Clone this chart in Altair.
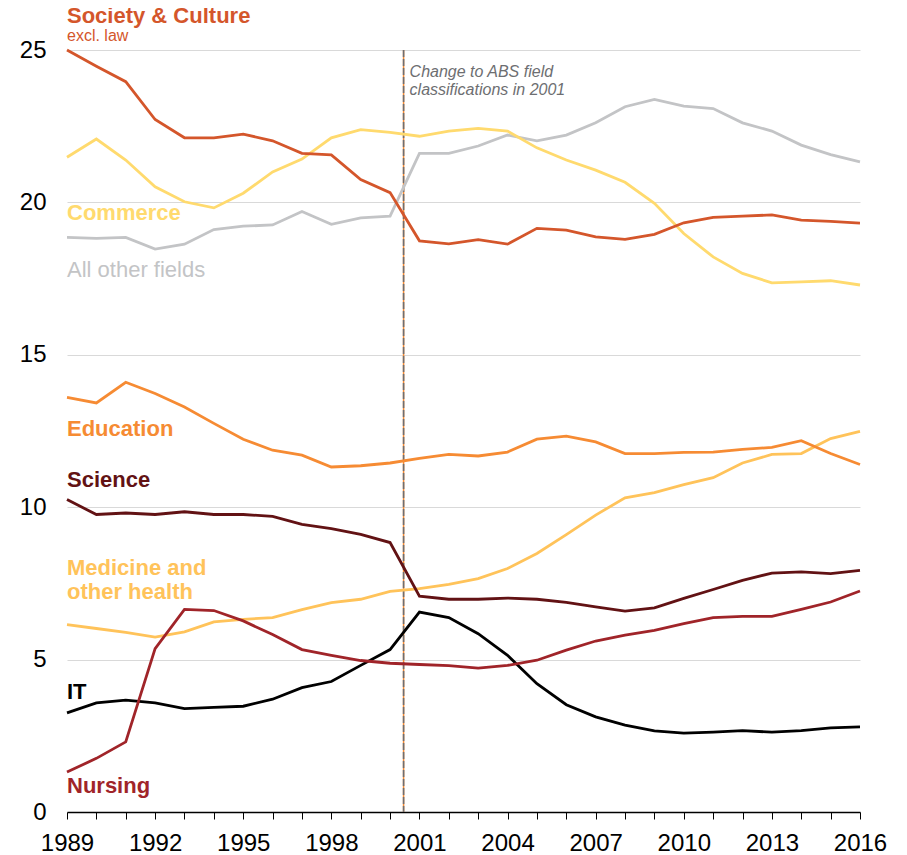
import altair as alt
import pandas as pd

years = list(range(1989, 2017))

society = [25.0, 24.47, 23.96, 22.72, 22.12, 22.12, 22.24, 22.02, 21.61, 21.56, 20.75, 20.32,
           18.74, 18.64, 18.78, 18.63, 19.15, 19.09, 18.87, 18.79, 18.95, 19.33, 19.51, 19.55,
           19.59, 19.42, 19.38, 19.32]
commerce = [21.48, 22.08, 21.39, 20.51, 20.02, 19.82, 20.30, 21.00, 21.42, 22.12, 22.39, 22.30,
            22.17, 22.34, 22.43, 22.34, 21.79, 21.39, 21.06, 20.66, 19.97, 18.98, 18.21, 17.67,
            17.36, 17.39, 17.43, 17.29]
other = [18.85, 18.82, 18.85, 18.47, 18.63, 19.11, 19.22, 19.26, 19.70, 19.28, 19.49, 19.55,
         21.61, 21.61, 21.85, 22.21, 22.02, 22.21, 22.61, 23.14, 23.38, 23.16, 23.08, 22.61,
         22.34, 21.88, 21.57, 21.33]
education = [13.60, 13.42, 14.10, 13.73, 13.29, 12.75, 12.23, 11.87, 11.71, 11.32, 11.36, 11.45,
             11.60, 11.73, 11.68, 11.81, 12.23, 12.33, 12.14, 11.76, 11.76, 11.80, 11.81, 11.90,
             11.96, 12.18, 11.76, 11.40]
science = [10.25, 9.76, 9.81, 9.76, 9.85, 9.76, 9.76, 9.70, 9.44, 9.30, 9.11, 8.84,
           7.08, 6.98, 6.98, 7.02, 6.98, 6.88, 6.73, 6.59, 6.70, 7.01, 7.30, 7.60,
           7.84, 7.88, 7.82, 7.93]
medicine = [6.15, 6.02, 5.89, 5.74, 5.91, 6.24, 6.32, 6.38, 6.64, 6.87, 6.98, 7.24,
            7.33, 7.47, 7.66, 7.99, 8.48, 9.10, 9.74, 10.31, 10.48, 10.74, 10.97, 11.45,
            11.73, 11.76, 12.25, 12.49]
nursing = [1.31, 1.76, 2.30, 5.36, 6.65, 6.61, 6.27, 5.82, 5.33, 5.14, 4.97, 4.88,
           4.84, 4.80, 4.72, 4.81, 4.98, 5.31, 5.61, 5.80, 5.96, 6.18, 6.38, 6.42,
           6.42, 6.65, 6.89, 7.25]
it = [3.25, 3.58, 3.67, 3.58, 3.39, 3.43, 3.47, 3.70, 4.08, 4.28, 4.81, 5.33,
      6.56, 6.38, 5.85, 5.14, 4.21, 3.52, 3.12, 2.85, 2.66, 2.59, 2.62, 2.67,
      2.62, 2.67, 2.76, 2.79]

series_names = ["All other fields", "Commerce", "Society & Culture", "Medicine and other health",
                "Education", "Science", "IT", "Nursing"]
series_values = [other, commerce, society, medicine, education, science, it, nursing]
series_colors = ["#c3c4c6", "#ffda6e", "#d4562b", "#ffc35a", "#f68b33", "#621214", "#000000", "#a02429"]

y_ticks = [0, 5, 10, 15, 20, 25]

# Direct labels (anchored at first year, value = baseline position)
bold_label_series = ["Society & Culture", "Commerce", "Education", "Science",
                     "Medicine and other health", "IT", "Nursing"]
bold_label_text = ["Society & Culture", "Commerce", "Education", "Science",
                   "Medicine and\nother health", "IT", "Nursing"]
bold_label_y = [25.87, 19.42, 12.33, 10.67, 7.77, 3.72, 0.62]

plain_label_series = ["All other fields", "Society & Culture"]
plain_label_text = ["All other fields", "excl. law"]
plain_label_y = [17.54, 25.31]
plain_label_size = [22, 16]

break_year = [2000.46]
note_text = ["Change to ABS field\nclassifications in 2001"]
note_y = [24.11]

FONT = "Liberation Sans, Arial, Helvetica, sans-serif"

rows = []
for name, vals in zip(series_names, series_values):
    for yr, v in zip(years, vals):
        rows.append({"series": name, "year": yr, "share": v})
df = pd.DataFrame(rows)

bold_df = pd.DataFrame({"series": bold_label_series, "text": bold_label_text,
                        "year": [years[0]] * len(bold_label_series), "share": bold_label_y})
plain_df = pd.DataFrame({"series": plain_label_series, "text": plain_label_text,
                         "year": [years[0]] * len(plain_label_series), "share": plain_label_y,
                         "size": plain_label_size})
rule_df = pd.DataFrame({"year": break_year})
note_df = pd.DataFrame({"year": break_year, "share": note_y, "text": note_text})

x_scale = alt.Scale(domain=[1989, 2016], nice=False, zero=False)
y_scale = alt.Scale(domain=[0, 25], nice=False)
color_scale = alt.Scale(domain=series_names, range=series_colors)

x_axis = alt.Axis(values=years, grid=False, tickSize=7, tickColor="#000000", tickWidth=1,
                  domainColor="#000000", domainWidth=1.5, labelFontSize=24, labelFont=FONT,
                  labelColor="#000000", labelPadding=12, labelFlush=False, labelOverlap=False,
                  labelExpr="(datum.value - 1989) % 3 == 0 ? format(datum.value, 'd') : ''",
                  title=None)
y_axis = alt.Axis(values=y_ticks, grid=True, gridColor="#d9d9d9", gridWidth=1,
                  domain=False, ticks=False, labelFontSize=24, labelFont=FONT,
                  labelColor="#000000", labelPadding=21, title=None)


def X():
    return alt.X("year:Q", scale=x_scale, axis=x_axis, title=None)


def Y():
    return alt.Y("share:Q", scale=y_scale, axis=y_axis, title=None)


orange_rule = alt.Chart(rule_df).mark_rule(color="#f68b33", strokeWidth=1.5).encode(x=X())
gray_rule = alt.Chart(rule_df).mark_rule(color="#6d6e71", strokeWidth=1.6,
                                          strokeDash=[7, 2]).encode(x=X())

lines = alt.Chart(df).mark_line(strokeWidth=2.8).encode(
    x=X(),
    y=Y(),
    color=alt.Color("series:N", scale=color_scale, legend=None),
    order=alt.Order("year:Q"),
)

bold_labels = alt.Chart(bold_df).mark_text(
    align="left", baseline="alphabetic", font=FONT, fontSize=22, fontWeight="bold",
    lineBreak="\n", lineHeight=23.5).encode(
    x=X(),
    y=Y(),
    text="text:N",
    color=alt.Color("series:N", scale=color_scale, legend=None),
)

plain_labels = alt.Chart(plain_df).mark_text(
    align="left", baseline="alphabetic", font=FONT, fontWeight="normal").encode(
    x=X(),
    y=Y(),
    text="text:N",
    size=alt.Size("size:Q", scale=None, legend=None),
    color=alt.Color("series:N", scale=color_scale, legend=None),
)

note = alt.Chart(note_df).mark_text(
    align="left", baseline="alphabetic", font=FONT, fontSize=16, fontStyle="italic",
    color="#6d6e71", dx=6, lineBreak="\n", lineHeight=18.3).encode(
    x=X(),
    y=Y(),
    text="text:N",
)

chart = alt.layer(orange_rule, gray_rule, lines, bold_labels, plain_labels, note).properties(
    width=793, height=762,
    padding={"left": 59, "top": 42, "right": 30, "bottom": 42},
    autosize=alt.AutoSizeParams(type="none"),
    background="#ffffff",
).configure_view(stroke=None)

chart.save("out.html", embed_options={"renderer": "svg", "actions": False})
